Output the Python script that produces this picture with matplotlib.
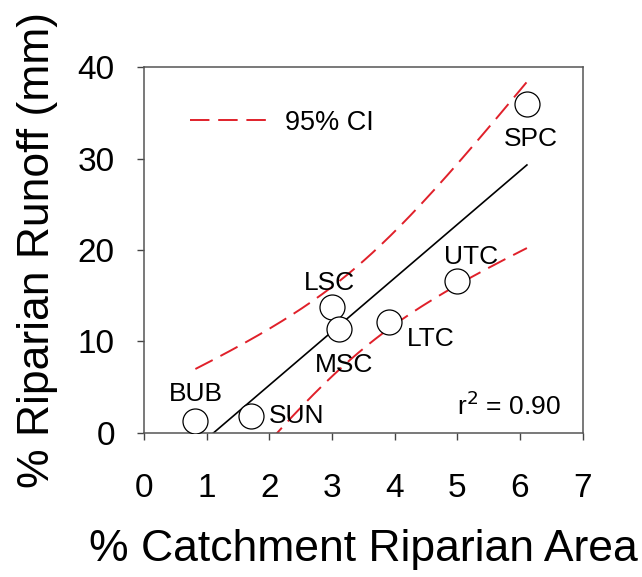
import numpy as np
import matplotlib
matplotlib.use("Agg")
import matplotlib.pyplot as plt
from matplotlib.lines import Line2D

plt.rcParams['font.family'] = ['Liberation Sans', 'DejaVu Sans']

# Catchment data: % riparian area vs % riparian runoff
sites = ["BUB", "SUN", "LSC", "MSC", "LTC", "UTC", "SPC"]
area = [0.82, 1.71, 3.00, 3.11, 3.91, 5.00, 6.11]
runoff = [1.3, 1.87, 13.8, 11.4, 12.1, 16.6, 36.0]

# label offsets in points (dx, dy) and alignment
label_pos = {
    "BUB": (0, 19, "center"),
    "SUN": (13, 0, "left"),
    "LSC": (-2, 17, "center"),
    "MSC": (4, -26, "center"),
    "LTC": (13, -12, "left"),
    "UTC": (10, 17, "center"),
    "SPC": (3, -25, "center"),
}

x = np.array(area)
y = np.array(runoff)
n = len(x)

# least squares fit and 95% confidence band for the mean
slope, intercept = np.polyfit(x, y, 1)
resid = y - (slope * x + intercept)
s = np.sqrt(np.sum(resid ** 2) / (n - 2))
sxx = np.sum((x - x.mean()) ** 2)
t_crit = 2.571  # t(0.975, df=5)
xf = np.linspace(x.min(), x.max(), 200)
yf = slope * xf + intercept
half = t_crit * s * np.sqrt(1 / n + (xf - x.mean()) ** 2 / sxx)

fig = plt.figure(figsize=(6.42, 5.77), dpi=100)
ax = fig.add_axes([0.2243, 0.2501, 0.6833, 0.6333])

red = "#e0202a"
dash = (10, 4.5)
ax.plot(xf, yf, color="black", lw=1.2, zorder=2)
ax.plot(xf, yf + half, color=red, lw=1.4, dashes=dash, zorder=2)
ax.plot(xf, yf - half, color=red, lw=1.4, dashes=dash, zorder=2)
ax.plot(x, y, "o", ms=18, mfc="white", mec="black", mew=0.9, zorder=3)

for name, xi, yi in zip(sites, area, runoff):
    dx, dy, ha = label_pos[name]
    ax.annotate(name, (xi, yi), xytext=(dx, dy), textcoords="offset points",
                ha=ha, va="center", fontsize=19)

ax.text(6.66, 3.0, "r$^2$ = 0.90", ha="right", va="center", fontsize=19)

handle = Line2D([], [], color=red, lw=1.4, dashes=dash)
ax.legend([handle], ["95% CI"], loc="upper left", bbox_to_anchor=(0.05, 0.95),
          frameon=False, fontsize=19.5, handlelength=2.9, handletextpad=0.6)

ax.set_xlim(0, 7)
ax.set_ylim(0, 40)
ax.set_xticks(range(0, 8))
ax.set_yticks(range(0, 41, 10))
ax.tick_params(direction="out", length=5, width=1, colors="#444444",
               labelcolor="black", labelsize=24)
ax.tick_params(axis="x", pad=24)
ax.tick_params(axis="y", pad=16)
for sp in ax.spines.values():
    sp.set_color("#555555")
    sp.set_linewidth(1.1)

ax.set_xlabel("% Catchment Riparian Area", fontsize=32, labelpad=18)
ax.set_ylabel("% Riparian Runoff (mm)", fontsize=32, labelpad=14)

fig.savefig("out.png", dpi=100)
